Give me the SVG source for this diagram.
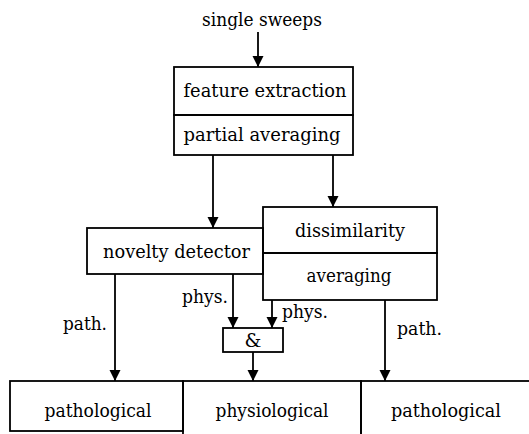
<svg xmlns="http://www.w3.org/2000/svg" width="529" height="434" viewBox="0 0 529 434">
<style>
  .box { fill: none; stroke: #000; stroke-width: 1.8; }
  .t { font-family: "DejaVu Serif", "Liberation Serif", "Times New Roman", serif; font-size: 19px; fill: #000; text-anchor: middle; }
  .edge { fill: none; stroke: #000; stroke-width: 1.8; marker-end: url(#arr); }
</style>
<defs>
  <marker id="arr" markerUnits="userSpaceOnUse" markerWidth="11" markerHeight="12" refX="10" refY="5" orient="auto" viewBox="0 0 10 10">
    <path d="M0,0 L10,5 L0,10 Z" fill="#000"/>
  </marker>
</defs>
<rect width="529" height="434" fill="#fff"/>

<g id="input">
  <text class="t" x="262" y="26" textLength="120" lengthAdjust="spacingAndGlyphs">single sweeps</text>
</g>

<g id="feature-extraction">
  <rect class="box" x="174" y="67" width="179" height="48"/>
  <text class="t" x="265" y="97" textLength="163" lengthAdjust="spacingAndGlyphs">feature extraction</text>
</g>
<g id="partial-averaging">
  <rect class="box" x="174" y="115" width="179" height="40"/>
  <text class="t" x="262" y="141" textLength="157" lengthAdjust="spacingAndGlyphs">partial averaging</text>
</g>

<g id="novelty-detector">
  <rect class="box" x="87" y="228" width="176" height="46"/>
  <text class="t" x="176.5" y="258" textLength="147" lengthAdjust="spacingAndGlyphs">novelty detector</text>
</g>

<g id="dissimilarity">
  <rect class="box" x="263" y="207" width="174" height="46"/>
  <text class="t" x="350" y="237" textLength="110" lengthAdjust="spacingAndGlyphs">dissimilarity</text>
</g>
<g id="averaging">
  <rect class="box" x="263" y="253" width="174" height="47"/>
  <text class="t" x="349" y="282" textLength="85" lengthAdjust="spacingAndGlyphs">averaging</text>
</g>

<g id="and">
  <rect class="box" x="223" y="328" width="60" height="24"/>
  <text class="t" x="253" y="347">&amp;</text>
</g>

<g id="out-pathological-1">
  <rect class="box" x="10" y="381" width="173" height="50"/>
  <text class="t" x="98" y="417" textLength="107" lengthAdjust="spacingAndGlyphs">pathological</text>
</g>
<g id="out-physiological">
  <rect class="box" x="183" y="381" width="178" height="60"/>
  <text class="t" x="272" y="417" textLength="113" lengthAdjust="spacingAndGlyphs">physiological</text>
</g>
<g id="out-pathological-2">
  <rect class="box" x="361" y="381" width="180" height="60"/>
  <text class="t" x="446" y="417" textLength="110" lengthAdjust="spacingAndGlyphs">pathological</text>
</g>

<g id="connectors">
  <line class="edge" x1="258" y1="32" x2="258" y2="67"/>
  <line class="edge" x1="213" y1="155" x2="213" y2="228"/>
  <line class="edge" x1="333" y1="155" x2="333" y2="207"/>
  <line class="edge" x1="115" y1="274" x2="115" y2="381"/>
  <line class="edge" x1="233" y1="274" x2="233" y2="328"/>
  <line class="edge" x1="272" y1="300" x2="272" y2="328"/>
  <line class="edge" x1="253" y1="352" x2="253" y2="381"/>
  <line class="edge" x1="385" y1="300" x2="385" y2="381"/>
  <text class="t" x="85" y="330" textLength="44" lengthAdjust="spacingAndGlyphs">path.</text>
  <text class="t" x="205" y="303" textLength="46" lengthAdjust="spacingAndGlyphs">phys.</text>
  <text class="t" x="305" y="318" textLength="46" lengthAdjust="spacingAndGlyphs">phys.</text>
  <text class="t" x="419.5" y="335" textLength="45" lengthAdjust="spacingAndGlyphs">path.</text>
</g>
</svg>
